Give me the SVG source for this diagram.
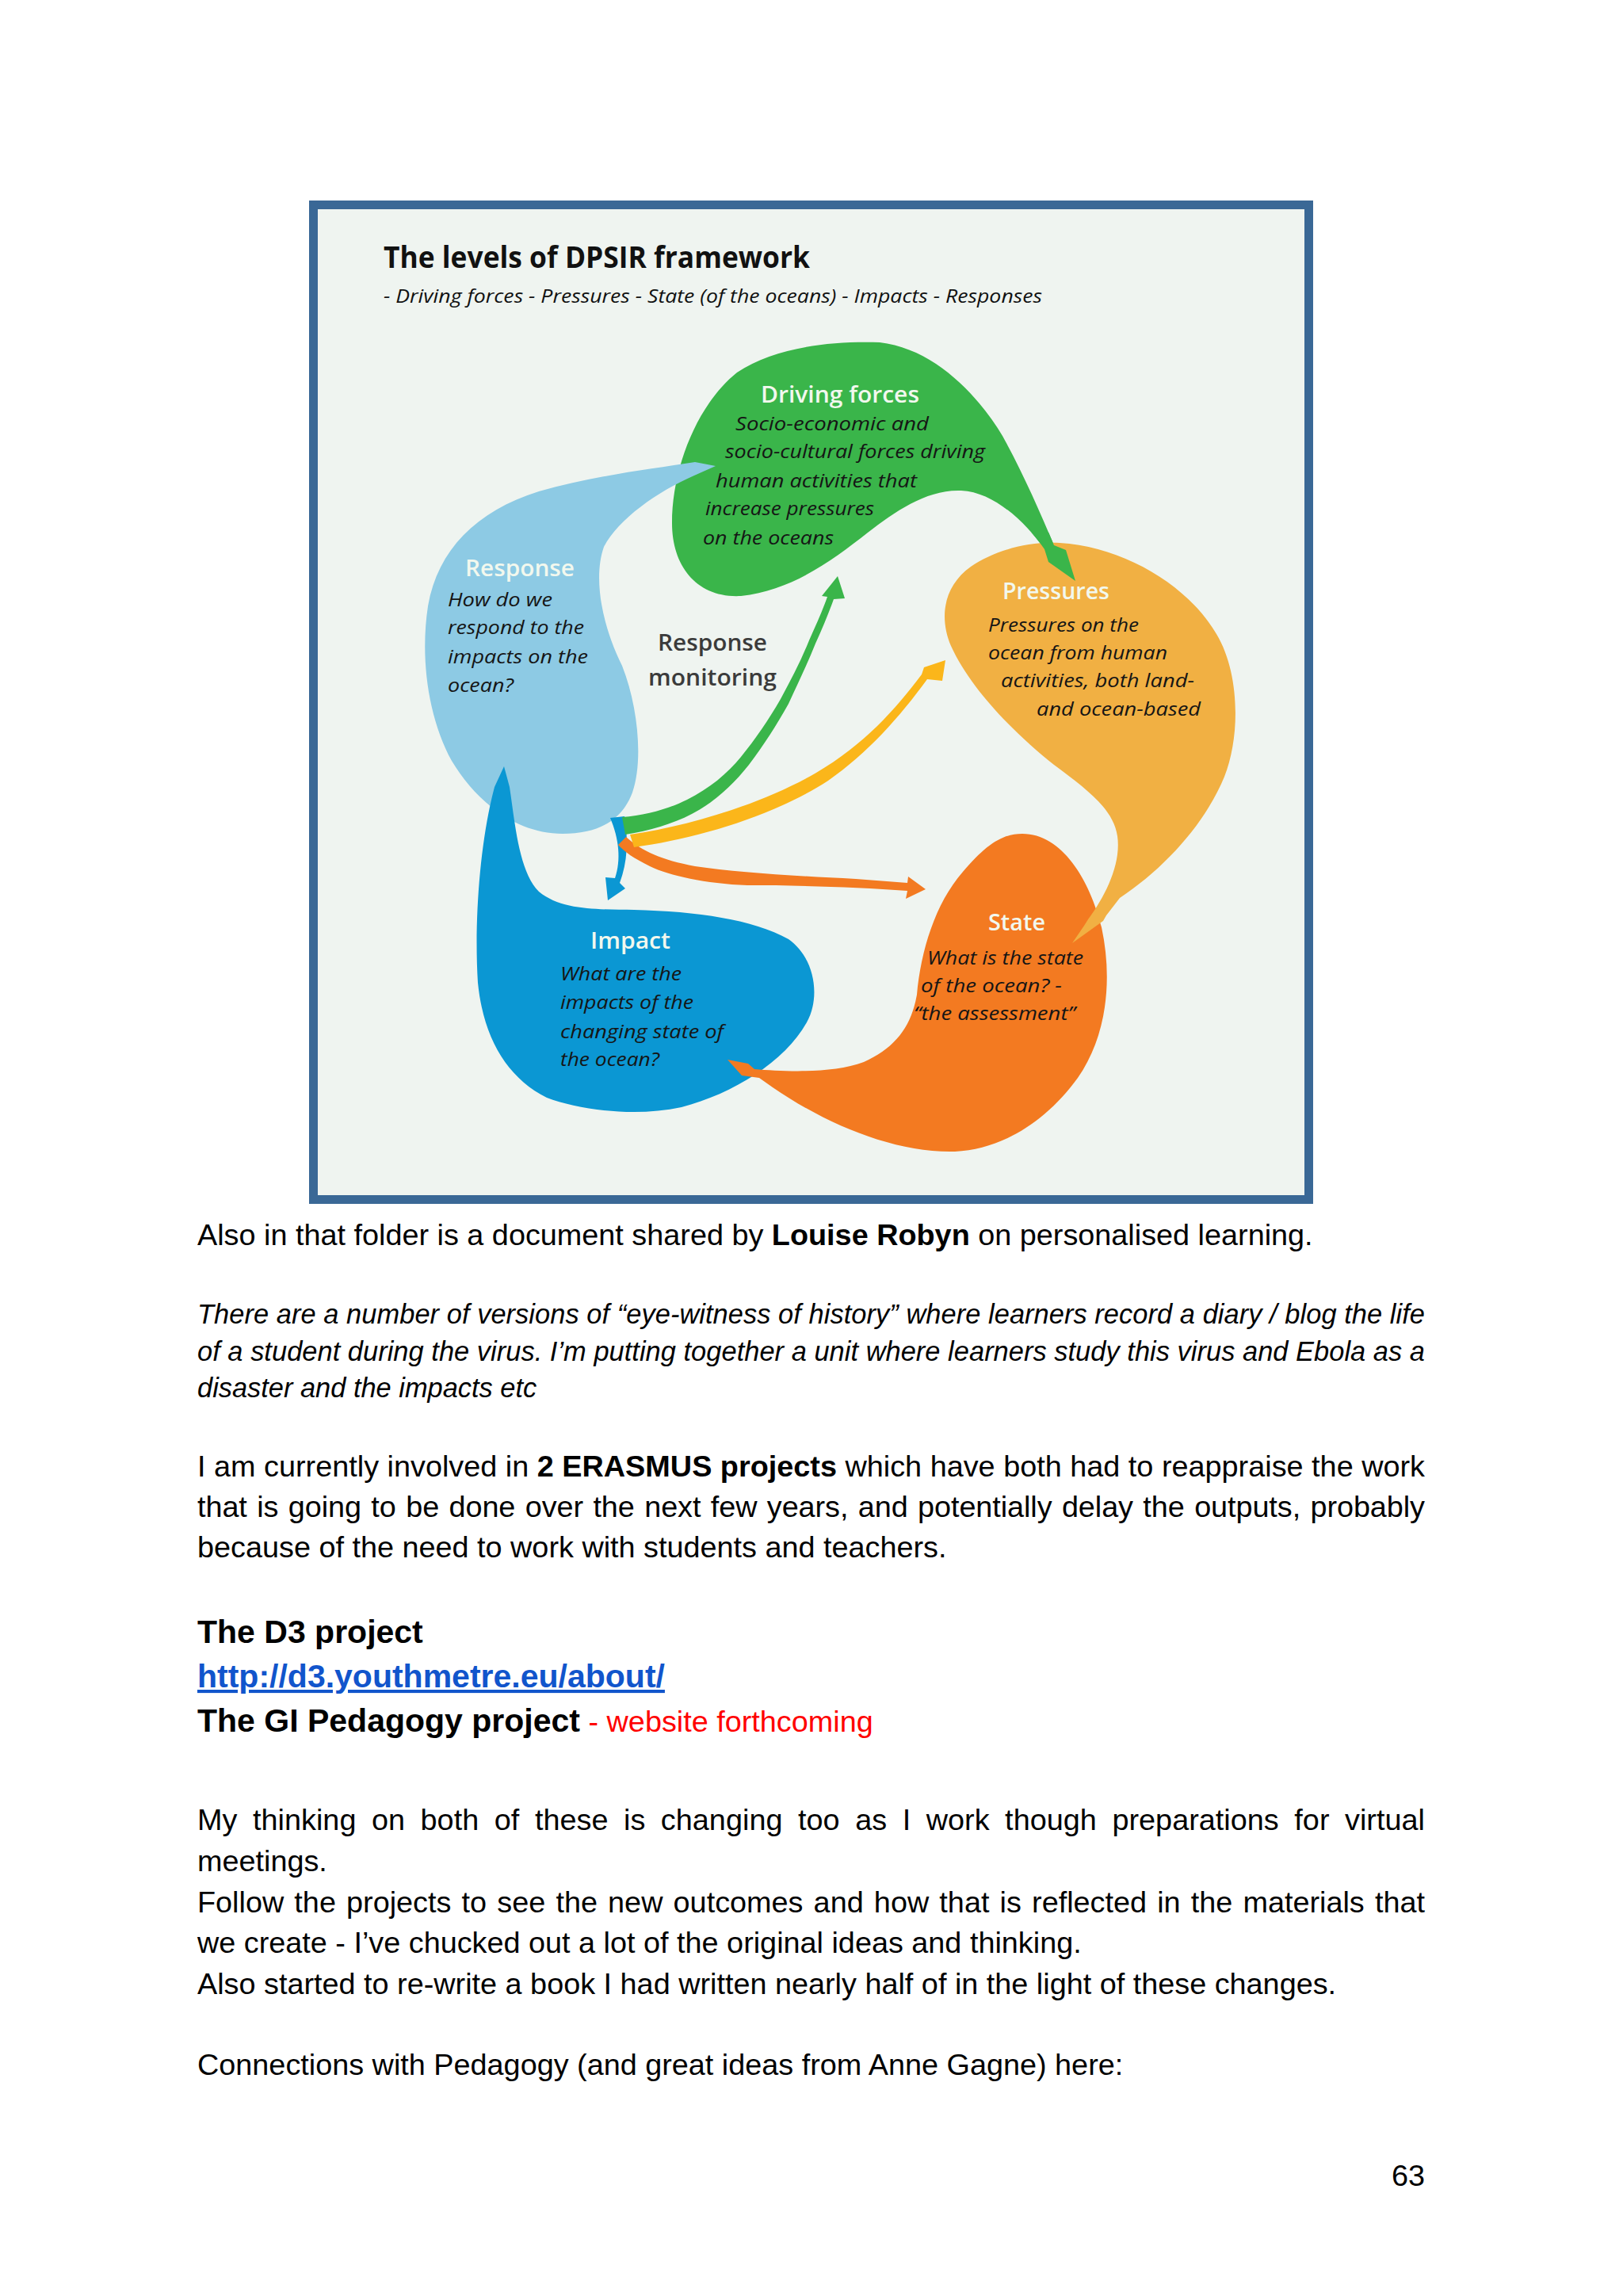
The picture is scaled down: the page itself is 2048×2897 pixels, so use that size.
<svg xmlns="http://www.w3.org/2000/svg" width="2048" height="2897" viewBox="0 0 2048 2897">
<defs>
<style>
.dg{font-family:"Open Sans","Noto Sans","DejaVu Sans",sans-serif}
.ttl{font-weight:700;font-size:38px;fill:#111}
.sub{font-style:italic;font-size:24px;fill:#111}
.hd{font-weight:600;font-size:29px;fill:#f2f8ee}
.it{font-style:italic;font-size:23px;fill:#151515}
.rm{font-weight:600;font-size:29px;fill:#3b3b3b}
.bd{font-family:"Liberation Sans",Arial,sans-serif;font-size:37.8px;fill:#000}
.b{font-weight:700}
.i{font-style:italic;font-size:34.4px}
.h{font-weight:700;font-size:41px}
</style>
<clipPath id="dfTip"><rect x="1296" y="672" width="80" height="70"/></clipPath>
</defs>
<rect width="2048" height="2897" fill="#ffffff"/>
<rect x="395.5" y="258.5" width="1256" height="1255" fill="#eff4f0" stroke="#3a6896" stroke-width="11"/>

<g id="title" class="dg">
<text class="ttl" x="484" y="338" textLength="538" lengthAdjust="spacingAndGlyphs">The levels of DPSIR framework</text>
<text class="sub" x="484" y="382" textLength="831" lengthAdjust="spacingAndGlyphs">- Driving forces - Pressures - State (of the oceans) - Impacts - Responses</text>
</g>

<g id="driving-forces" class="dg">
<path id="df-shape" fill="#3ab54a" d="M1110 432 C1180 440 1235 500 1265 550 C1290 595 1312 645 1330 688 L1345 694 L1357 733 L1323 709 L1318 693 C1295 660 1255 621 1213 619 C1170 617 1130 645 1095 672 C1050 707 1000 745 935 752 C880 755 848 715 848 660 C848 590 880 510 930 470 C975 440 1040 430 1110 432 Z"/>
<text class="hd" x="960" y="508" textLength="200" lengthAdjust="spacingAndGlyphs">Driving forces</text>
<text class="it" x="928" y="543" textLength="244" lengthAdjust="spacingAndGlyphs">Socio-economic and</text>
<text class="it" x="915" y="578" textLength="328" lengthAdjust="spacingAndGlyphs">socio-cultural forces driving</text>
<text class="it" x="903" y="615" textLength="254" lengthAdjust="spacingAndGlyphs">human activities that</text>
<text class="it" x="890" y="650" textLength="213" lengthAdjust="spacingAndGlyphs">increase pressures</text>
<text class="it" x="887" y="687" textLength="165" lengthAdjust="spacingAndGlyphs">on the oceans</text>
</g>

<g id="response" class="dg">
<path fill="#8dcae4" d="M903 588 L876 600 C830 620 780 655 762 690 C748 730 760 790 785 840 C805 890 812 960 798 1000 C785 1035 755 1052 710 1052 C650 1052 600 1010 570 960 C540 905 530 830 540 765 C552 695 600 645 680 620 C750 600 820 592 877 583 Z"/>
<text class="hd" x="587" y="727" textLength="138" lengthAdjust="spacingAndGlyphs">Response</text>
<text class="it" x="565" y="765" textLength="132" lengthAdjust="spacingAndGlyphs">How do we</text>
<text class="it" x="565" y="800" textLength="172" lengthAdjust="spacingAndGlyphs">respond to the</text>
<text class="it" x="565" y="837" textLength="177" lengthAdjust="spacingAndGlyphs">impacts on the</text>
<text class="it" x="565" y="873" textLength="83" lengthAdjust="spacingAndGlyphs">ocean?</text>
</g>

<g id="impact" class="dg">
<path fill="#0b97d3" d="M636 967 L643 993 C650 1040 655 1100 680 1125 C710 1150 760 1147 800 1148 C880 1150 950 1160 995 1185 C1030 1210 1035 1260 1018 1290 C990 1340 925 1380 860 1397 C800 1410 730 1400 690 1385 C640 1360 610 1310 603 1240 C598 1160 606 1060 624 993 Z"/>
<text class="hd" x="745" y="1197" textLength="101" lengthAdjust="spacingAndGlyphs">Impact</text>
<text class="it" x="707" y="1237" textLength="153" lengthAdjust="spacingAndGlyphs">What are the</text>
<text class="it" x="707" y="1273" textLength="168" lengthAdjust="spacingAndGlyphs">impacts of the</text>
<text class="it" x="707" y="1310" textLength="206" lengthAdjust="spacingAndGlyphs">changing state of</text>
<text class="it" x="707" y="1345" textLength="125" lengthAdjust="spacingAndGlyphs">the ocean?</text>
</g>

<g id="state" class="dg">
<path fill="#f37a21" d="M918 1337 L944 1342 L952 1349 C990 1352 1050 1355 1090 1340 C1130 1322 1150 1295 1157 1255 C1162 1200 1180 1140 1215 1100 C1245 1065 1265 1052 1290 1052 C1340 1052 1375 1110 1390 1170 C1405 1240 1395 1310 1360 1360 C1320 1415 1265 1450 1205 1453 C1130 1455 1045 1420 975 1372 L958 1360 L936 1357 Z"/>
<text class="hd" x="1247" y="1174" textLength="72" lengthAdjust="spacingAndGlyphs">State</text>
<text class="it" x="1170" y="1217" textLength="197" lengthAdjust="spacingAndGlyphs">What is the state</text>
<text class="it" x="1162" y="1252" textLength="178" lengthAdjust="spacingAndGlyphs">of the ocean? -</text>
<text class="it" x="1153" y="1287" textLength="204" lengthAdjust="spacingAndGlyphs">“the assessment”</text>
</g>

<g id="pressures" class="dg">
<path fill="#f1b043" d="M1337 685 C1420 690 1500 740 1535 800 C1565 850 1565 930 1545 980 C1520 1040 1470 1095 1413 1133 L1396 1155 L1392 1162 L1353 1190 L1368 1168 L1373 1160 C1395 1130 1415 1090 1410 1055 C1405 1020 1370 995 1330 965 C1280 925 1225 870 1200 815 C1185 780 1190 740 1225 715 C1255 695 1295 683 1337 685 Z"/>
<text class="hd" x="1265" y="756" textLength="135" lengthAdjust="spacingAndGlyphs">Pressures</text>
<text class="it" x="1247" y="797" textLength="190" lengthAdjust="spacingAndGlyphs">Pressures on the</text>
<text class="it" x="1247" y="832" textLength="226" lengthAdjust="spacingAndGlyphs">ocean from human</text>
<text class="it" x="1263" y="867" textLength="244" lengthAdjust="spacingAndGlyphs">activities, both land-</text>
<text class="it" x="1308" y="903" textLength="207" lengthAdjust="spacingAndGlyphs">and ocean-based</text>
</g>

<g id="driving-forces-tip">
<use href="#df-shape" clip-path="url(#dfTip)"/>
</g>

<g id="response-monitoring" class="dg">
<text class="rm" x="830" y="821" textLength="138" lengthAdjust="spacingAndGlyphs">Response</text>
<text class="rm" x="818" y="865" textLength="162" lengthAdjust="spacingAndGlyphs">monitoring</text>
</g>

<g id="connectors">
<path fill="#0b97d3" d="M770 1032 C781 1058 784 1085 776 1108 L764 1107 L767 1136 L789 1121 L782 1114 C792 1088 793 1058 788 1030 Z"/>
<path fill="#f37a21" d="M790 1056 C810 1074 835 1085 877 1093 C930 1101 1000 1105 1080 1109 L1145 1114 L1146 1106 L1168 1122 L1143 1134 L1145 1124 C1080 1119 1000 1117 943 1117 C890 1115 845 1105 820 1093 C800 1083 788 1075 780 1066 Z"/>
<path fill="#fbb61a" d="M795 1053 C870 1042 960 1015 1030 975 C1090 940 1130 895 1163 851 L1166 842 L1193 833 L1189 859 L1170 857 C1135 905 1095 950 1045 985 C975 1030 880 1058 800 1069 Z"/>
<path fill="#3ab54a" d="M785 1031 C815 1029 845 1020 867 1009 C895 995 918 976 935 955 C953 933 970 908 985 882 C998 858 1011 833 1021 808 C1030 788 1038 770 1044 753 L1037 752 L1057 727 L1066 755 L1052 756 C1046 773 1038 792 1029 812 C1019 837 1007 862 995 888 C980 915 963 941 945 965 C925 990 902 1012 873 1027 C848 1040 820 1048 789 1053 Z"/>
</g>

<g id="body-text" class="bd">
<text x="249" y="1571">Also in that folder is a document shared by <tspan class="b">Louise Robyn</tspan> on personalised learning.</text>
<text class="i" x="249" y="1670" textLength="1549" lengthAdjust="spacing">There are a number of versions of “eye-witness of history” where learners record a diary / blog the life</text>
<text class="i" x="249" y="1717" textLength="1549" lengthAdjust="spacing">of a student during the virus. I’m putting together a unit where learners study this virus and Ebola as a</text>
<text class="i" x="249" y="1763">disaster and the impacts etc</text>
<text x="249" y="1863" textLength="1549" lengthAdjust="spacing">I am currently involved in <tspan class="b">2 ERASMUS projects</tspan> which have both had to reappraise the work</text>
<text x="249" y="1914" word-spacing="2" textLength="1549" lengthAdjust="spacing">that is going to be done over the next few years, and potentially delay the outputs, probably</text>
<text x="249" y="1965">because of the need to work with students and teachers.</text>
<text class="h" x="249" y="2073">The D3 project</text>
<text class="h" x="249" y="2129" fill="#1155cc" text-decoration="underline">http://d3.youthmetre.eu/about/</text>
<text x="249" y="2185"><tspan class="h">The GI Pedagogy project</tspan><tspan fill="#ff0000"> - website forthcoming</tspan></text>
<text x="249" y="2309" word-spacing="9" textLength="1549" lengthAdjust="spacing">My thinking on both of these is changing too as I work though preparations for virtual</text>
<text x="249" y="2361">meetings.</text>
<text x="249" y="2413" word-spacing="2.7" textLength="1549" lengthAdjust="spacing">Follow the projects to see the new outcomes and how that is reflected in the materials that</text>
<text x="249" y="2464">we create - I’ve chucked out a lot of the original ideas and thinking.</text>
<text x="249" y="2516">Also started to re-write a book I had written nearly half of in the light of these changes.</text>
<text x="249" y="2618">Connections with Pedagogy (and great ideas from Anne Gagne) here:</text>
<text x="1798" y="2758" text-anchor="end">63</text>
</g>
</svg>
